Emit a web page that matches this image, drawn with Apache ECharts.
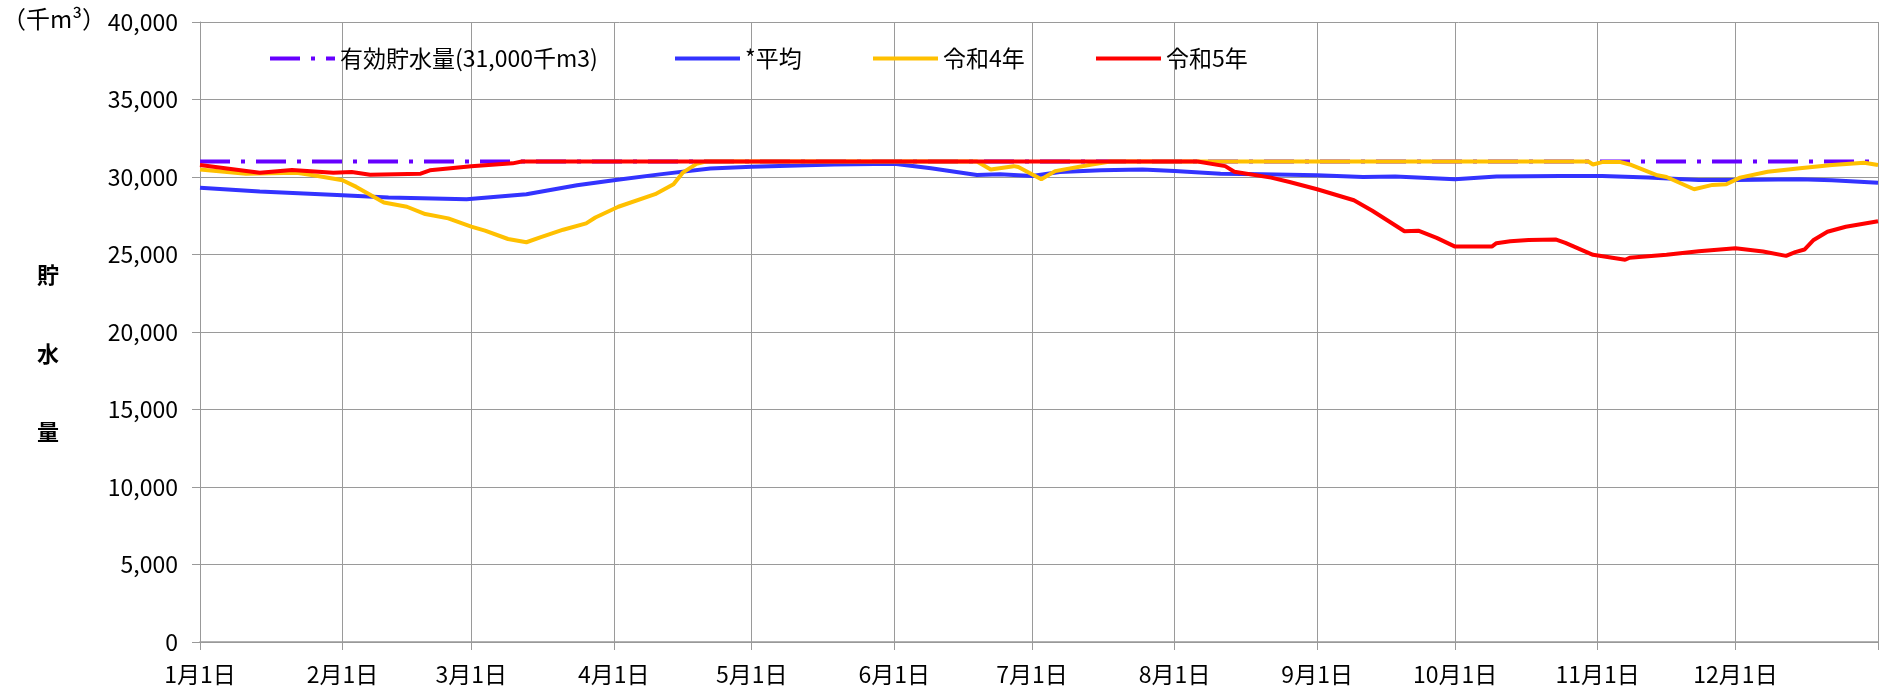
<!DOCTYPE html>
<html><head><meta charset="utf-8">
<script src="https://cdn.jsdelivr.net/npm/echarts@6/dist/echarts.min.js"></script>
<style>html,body{margin:0;padding:0;background:#fff}#c{width:1882px;height:694px}</style>
</head><body><div id="c"></div><script>
// ---- data (x = day of year, 0 = 1月1日) ----
const monthStartDays = [0, 31, 59, 90, 120, 151, 181, 212, 243, 273, 304, 334];
const monthLabels = ['1月1日','2月1日','3月1日','4月1日','5月1日','6月1日','7月1日','8月1日','9月1日','10月1日','11月1日','12月1日'];
const yearEndDay = 365;
const yTicks = [0, 5000, 10000, 15000, 20000, 25000, 30000, 35000, 40000];

const seriesNames = ['有効貯水量(31,000千m3)', '*平均', '令和4年', '令和5年'];

const capacityDays = [0, 365];
const capacityValues = [31000, 31000];

const avgDays = [0, 13, 31, 41, 58, 71, 82, 90, 100, 111, 120, 138, 151, 159, 169, 174, 181, 187, 196, 205, 212, 222, 231, 243, 253, 260, 273, 282, 296, 305, 315, 326, 334, 348, 355, 365];
const avgValues = [29300, 29060, 28830, 28680, 28570, 28890, 29470, 29790, 30170, 30550, 30660, 30810, 30850, 30560, 30130, 30170, 30060, 30320, 30430, 30490, 30380, 30210, 30170, 30110, 30000, 30040, 29850, 30030, 30060, 30060, 29960, 29810, 29810, 29850, 29790, 29630];

const r4Days = [0, 10, 21, 25, 31, 34, 40, 45, 49, 54, 59, 62, 67, 71, 74, 79, 84, 86, 91, 99, 103, 105, 108, 110, 169, 172, 177, 178, 183, 186, 194, 198, 302, 303, 305, 309, 311, 317, 319, 325, 329, 332, 335, 341, 348, 355, 362, 365];
const r4Values = [30490, 30210, 30280, 30100, 29790, 29360, 28350, 28080, 27610, 27330, 26800, 26540, 26000, 25790, 26110, 26600, 27010, 27390, 28080, 28890, 29530, 30280, 30850, 31000, 31000, 30490, 30700, 30640, 29850, 30380, 30810, 31000, 31000, 30810, 30960, 30960, 30810, 30110, 30000, 29210, 29490, 29530, 29960, 30340, 30560, 30770, 30920, 30770];

const r5Days = [0, 13, 20, 29, 33, 37, 48, 50, 59, 68, 70, 217, 223, 225, 233, 237, 243, 251, 255, 262, 265, 269, 273, 281, 282, 285, 289, 295, 297, 303, 310, 311, 319, 326, 334, 340, 345, 347, 349, 351, 354, 358, 365];
const r5Values = [30770, 30280, 30450, 30280, 30320, 30150, 30210, 30430, 30700, 30880, 31000, 31000, 30700, 30340, 29960, 29680, 29210, 28500, 27820, 26500, 26540, 26070, 25510, 25510, 25730, 25850, 25940, 25960, 25750, 24980, 24660, 24790, 24980, 25210, 25400, 25190, 24910, 25150, 25320, 25940, 26470, 26790, 27140];

// ---- chart ----
const FONT = "'Noto Sans CJK JP', 'Noto Sans', sans-serif";
const GRID = '#9a9a9a';
function pairs(d, v) { return d.map((x, i) => [x, v[i]]); }
function commas(v) { return String(v).replace(/\B(?=(\d{3})+(?!\d))/g, ','); }

const chart = echarts.init(document.getElementById('c'), null, {renderer: 'canvas'});
const legendBase = {
  top: 47, padding: 0, itemWidth: 65, itemHeight: 14, itemGap: 0,
  itemStyle: {color: 'rgba(0,0,0,0)', borderColor: 'rgba(0,0,0,0)', borderWidth: 0, opacity: 0},
  lineStyle: {width: 4},
  textStyle: {fontFamily: FONT, fontSize: 23, color: '#000'}
};
const legendLefts = [268, 673, 871, 1094];
const colors = ['#6600ff', '#3333ff', '#ffc000', '#ff0000'];

chart.setOption({
  animation: false,
  backgroundColor: '#fff',
  textStyle: {fontFamily: FONT},
  grid: {left: 200, right: 4, top: 22, bottom: 52, containLabel: false},
  legend: seriesNames.map((n, i) => Object.assign({}, legendBase, {data: [n], left: legendLefts[i]})),
  graphic: [
    {type: 'text', left: 2, top: 7, style: {text: '（千m³）', font: '24px ' + FONT, fill: '#000'}},
    {type: 'text', left: 37, top: 264, style: {text: '貯', font: 'bold 22px ' + FONT, fill: '#000'}},
    {type: 'text', left: 37, top: 343, style: {text: '水', font: 'bold 22px ' + FONT, fill: '#000'}},
    {type: 'text', left: 37, top: 421, style: {text: '量', font: 'bold 22px ' + FONT, fill: '#000'}}
  ],
  xAxis: {
    type: 'value', min: 0, max: yearEndDay,
    axisLine: {show: true, onZero: false, lineStyle: {color: '#999', width: 1.5}},
    axisTick: {show: true, customValues: monthStartDays.concat([yearEndDay]), length: 8, lineStyle: {color: '#999'}},
    axisLabel: {customValues: monthStartDays, formatter: v => monthLabels[monthStartDays.indexOf(v)], fontFamily: FONT, fontSize: 23, color: '#000', margin: 21},
    splitLine: {show: true, lineStyle: {color: GRID, width: 1}}
  },
  yAxis: {
    type: 'value', min: yTicks[0], max: yTicks[yTicks.length - 1], interval: 5000,
    axisLine: {show: true, lineStyle: {color: '#999', width: 1}},
    axisTick: {show: true, length: 8, lineStyle: {color: '#999'}},
    axisLabel: {formatter: v => commas(v), fontFamily: FONT, fontSize: 23, color: '#000', margin: 22},
    splitLine: {show: true, lineStyle: {color: GRID, width: 1}}
  },
  series: [
    {name: seriesNames[0], type: 'line', data: pairs(capacityDays, capacityValues), symbol: 'none',
     lineStyle: {color: colors[0], width: 4, type: [30, 11, 4, 11], cap: 'butt'}, itemStyle: {color: colors[0]}, z: 2},
    {name: seriesNames[1], type: 'line', data: pairs(avgDays, avgValues), symbol: 'none',
     lineStyle: {color: colors[1], width: 4}, itemStyle: {color: colors[1]}, z: 3},
    {name: seriesNames[2], type: 'line', data: pairs(r4Days, r4Values), symbol: 'none',
     lineStyle: {color: colors[2], width: 4}, itemStyle: {color: colors[2]}, z: 4},
    {name: seriesNames[3], type: 'line', data: pairs(r5Days, r5Values), symbol: 'none',
     lineStyle: {color: colors[3], width: 4}, itemStyle: {color: colors[3]}, z: 5}
  ]
});
</script></body></html>
